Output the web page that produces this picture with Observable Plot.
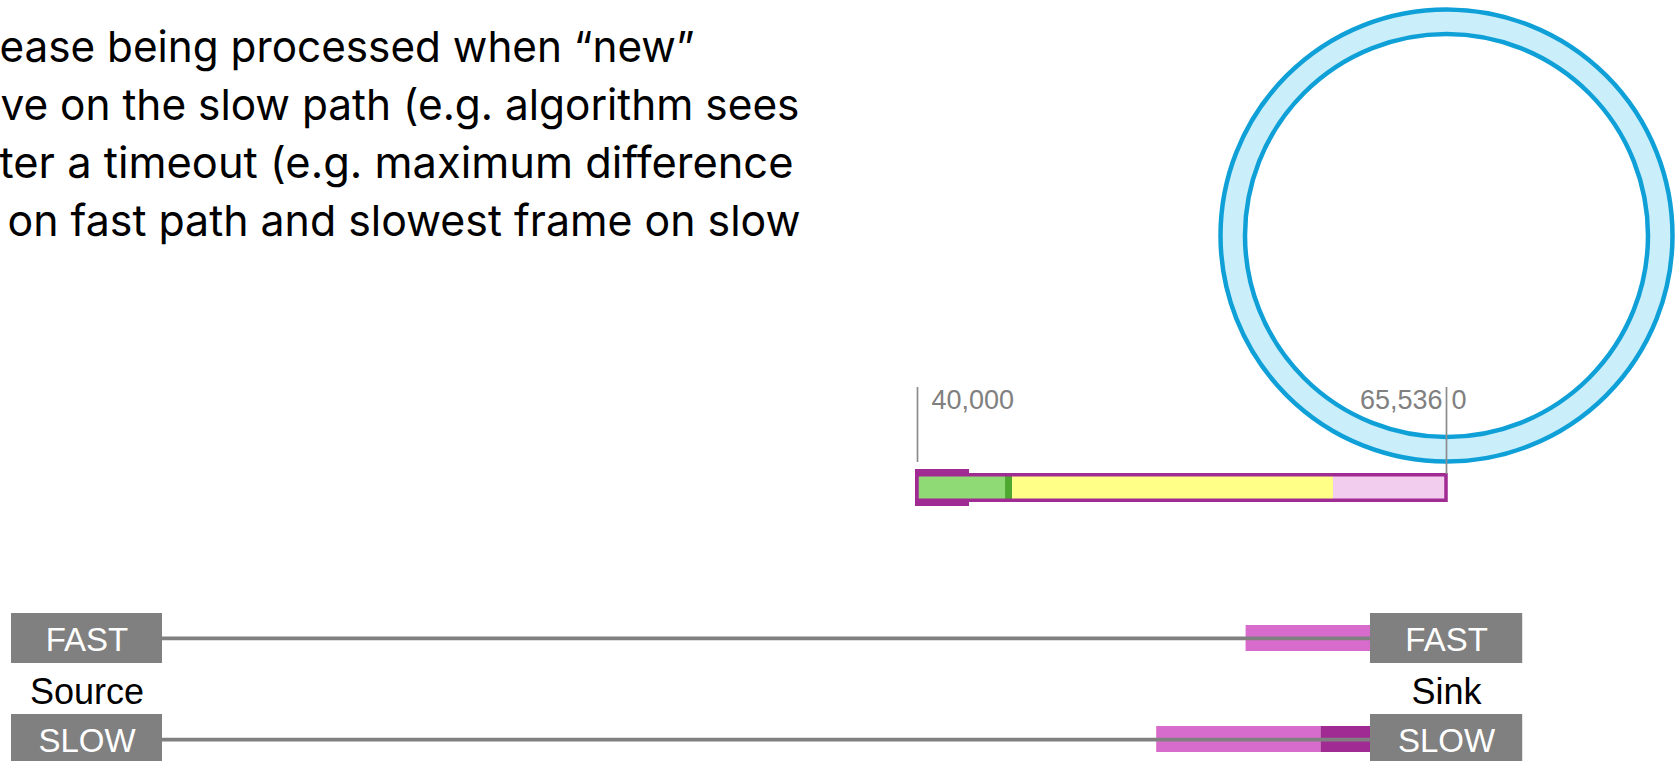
<!DOCTYPE html>
<html><head><meta charset="utf-8">
<script src="https://cdn.jsdelivr.net/npm/d3@7"></script>
<script src="https://cdn.jsdelivr.net/npm/@observablehq/plot@0.6"></script>
<style>
html,body{margin:0;padding:0;background:#fff;overflow:hidden}
#chart{position:relative;width:1677px;height:761px;overflow:hidden;background:#fff}
#chart svg{position:absolute;left:0;top:0;background:transparent;overflow:visible;max-width:none}
#chart text{font-variant-ligatures:none}
</style></head><body><div id="chart"></div>
<script>
// ---------------- data ----------------
const noteLines = [
  "ease being processed when \u201cnew\u201d",
  "ve on the slow path (e.g. algorithm sees",
  "ter a timeout (e.g. maximum difference",
  "on fast path and slowest frame on slow"
];
// sequence-number window
const seqDomain = [40000, 65536];
const seqTickValues = [40000, 65536];
const seqTickLabels = ["40,000", "65,536"];
const wrapValue = 65536;
const wrapLabel = "0";
const segNames = ["processed", "current", "pending", "free"];
const segStart = [40000, 44250, 44590, 60080];
const segEnd   = [44250, 44590, 60080, 65536];
const headStart = [40000];
const headEnd = [42510];
// paths (bottom)
const paths = ["FAST", "SLOW"];
const endpointNames = ["Source", "Sink"];
const queuePath  = ["FAST", "SLOW", "SLOW"];
const queueKind  = ["in flight", "in flight", "held"];
const queueStart = [89.7, 82.3, 95.9];   // % along the path
const queueEnd   = [100, 95.9, 100];

// ---------------- layout / style ----------------
const W = 1677, H = 761;
const purple = "#a02b93", gray = "#808080";
const segColors = ["#90da76", "#4ea72e", "#ffff88", "#f2cdee"];
const chart = document.getElementById("chart");
const sansF = "Liberation Sans, Arial, sans-serif";

// ---- sequence bar + ring ----
const segs = segNames.map((n, i) => ({name: n, s: segStart[i], e: segEnd[i]}));
const heads = headStart.map((s, i) => ({s, e: headEnd[i]}));
const row = () => "window";
const tickText = {frameAnchor: "top", dy: 408, lineAnchor: "bottom", fontSize: 27, fill: gray, fontFamily: sansF};
const seqPlot = Plot.plot({
  width: W, height: H, margin: 0,
  style: {background: "transparent", overflow: "visible"},
  x: {type: "linear", domain: seqDomain, range: [917, 1446], axis: null},
  y: {type: "band", domain: ["window"], range: [474.75, 500.25], padding: 0, round: false, axis: null},
  color: {domain: segNames, range: segColors},
  marks: [
    Plot.dot([wrapValue], {x: d => d, r: 226, fill: "#cbeefb", stroke: "#10a0d8", strokeWidth: 4.5, frameAnchor: "top", dy: 235}),
    Plot.dot([wrapValue], {x: d => d, r: 201.5, fill: "#ffffff", stroke: "#10a0d8", strokeWidth: 4.5, frameAnchor: "top", dy: 235}),
    Plot.barX(heads, {x1: "s", x2: "e", y: row, fill: purple, insetTop: -5.75, insetBottom: -5.75, insetLeft: -2}),
    Plot.barX(segs, {x1: "s", x2: "e", y: row, fill: "name"}),
    Plot.barX([seqDomain], {x1: d => d[0], x2: d => d[1], y: row, fill: "none", stroke: purple, strokeWidth: 3.5}),
    Plot.ruleX([seqTickValues[0]], {x: d => d, stroke: "#8c8c8c", strokeWidth: 1.7, insetTop: 387, insetBottom: H - 462}),
    Plot.ruleX([seqTickValues[1]], {x: d => d, stroke: "#8c8c8c", strokeWidth: 1.7, insetTop: 387, insetBottom: H - 474}),
    Plot.text([seqTickValues[0]], {x: d => d, text: [seqTickLabels[0]], textAnchor: "start", dx: 14, ...tickText}),
    Plot.text([seqTickValues[1]], {x: d => d, text: [seqTickLabels[1]], textAnchor: "end", dx: -4, ...tickText}),
    Plot.text([wrapValue], {x: d => d, text: [wrapLabel], textAnchor: "start", dx: 5, ...tickText})
  ]
});
chart.appendChild(seqPlot);

// ---- paths ----
const queues = queuePath.map((p, i) => ({path: p, kind: queueKind[i], s: queueStart[i], e: queueEnd[i]}));
const boxExt = {Source: [-12.5, 0], Sink: [100, 112.6]};
const boxes = [];
for (const ep of endpointNames) for (const p of paths) boxes.push({ep, path: p, s: boxExt[ep][0], e: boxExt[ep][1]});
const pathPlot = Plot.plot({
  width: W, height: H, margin: 0,
  style: {background: "transparent", overflow: "visible"},
  x: {type: "linear", domain: [0, 100], range: [162, 1370], axis: null},
  y: {type: "band", domain: paths, range: [613, 764], paddingInner: 0.505, paddingOuter: 0, round: false, axis: null},
  color: {domain: ["in flight", "held"], range: ["#d86ccc", purple]},
  marks: [
    Plot.barX(queues, {x1: "s", x2: "e", y: "path", fill: "kind", insetTop: 12, insetBottom: 12}),
    Plot.ruleY(paths, {y: d => d, x1: 0, x2: 100, stroke: gray, strokeWidth: 3.75}),
    Plot.barX(boxes, {x1: "s", x2: "e", y: "path", fill: gray}),
    Plot.text(boxes, {x: d => (d.s + d.e) / 2, y: "path", dy: 2, text: "path", fill: "#ffffff", fontSize: 33, fontFamily: sansF}),
    Plot.text(endpointNames, {x: d => (boxExt[d][0] + boxExt[d][1]) / 2, y: () => paths[0], dy: 54, text: d => d, fill: "#000", fontSize: 36, fontFamily: sansF})
  ]
});
chart.appendChild(pathPlot);

// ---- note text ----
const lineStarts = [-1, 0, -1, 7];
const lineBase = [61, 119, 177, 235];
const lineWidths = [695, 799, 794, 793];
const notePlot = Plot.plot({
  width: W, height: H, margin: 0,
  style: {background: "transparent", overflow: "visible"},
  marks: noteLines.map((t, i) => Plot.text([t], {text: d => d, frameAnchor: "top-left", dx: lineStarts[i], dy: lineBase[i], lineAnchor: "bottom", textAnchor: "start", fontSize: 43, fill: "#000", fontFamily: "Inter, Lato, sans-serif"}))
});
chart.appendChild(notePlot);
notePlot.querySelectorAll("text").forEach((t, i) => {
  t.setAttribute("textLength", lineWidths[i]);
  t.setAttribute("lengthAdjust", "spacingAndGlyphs");
});
</script></body></html>
